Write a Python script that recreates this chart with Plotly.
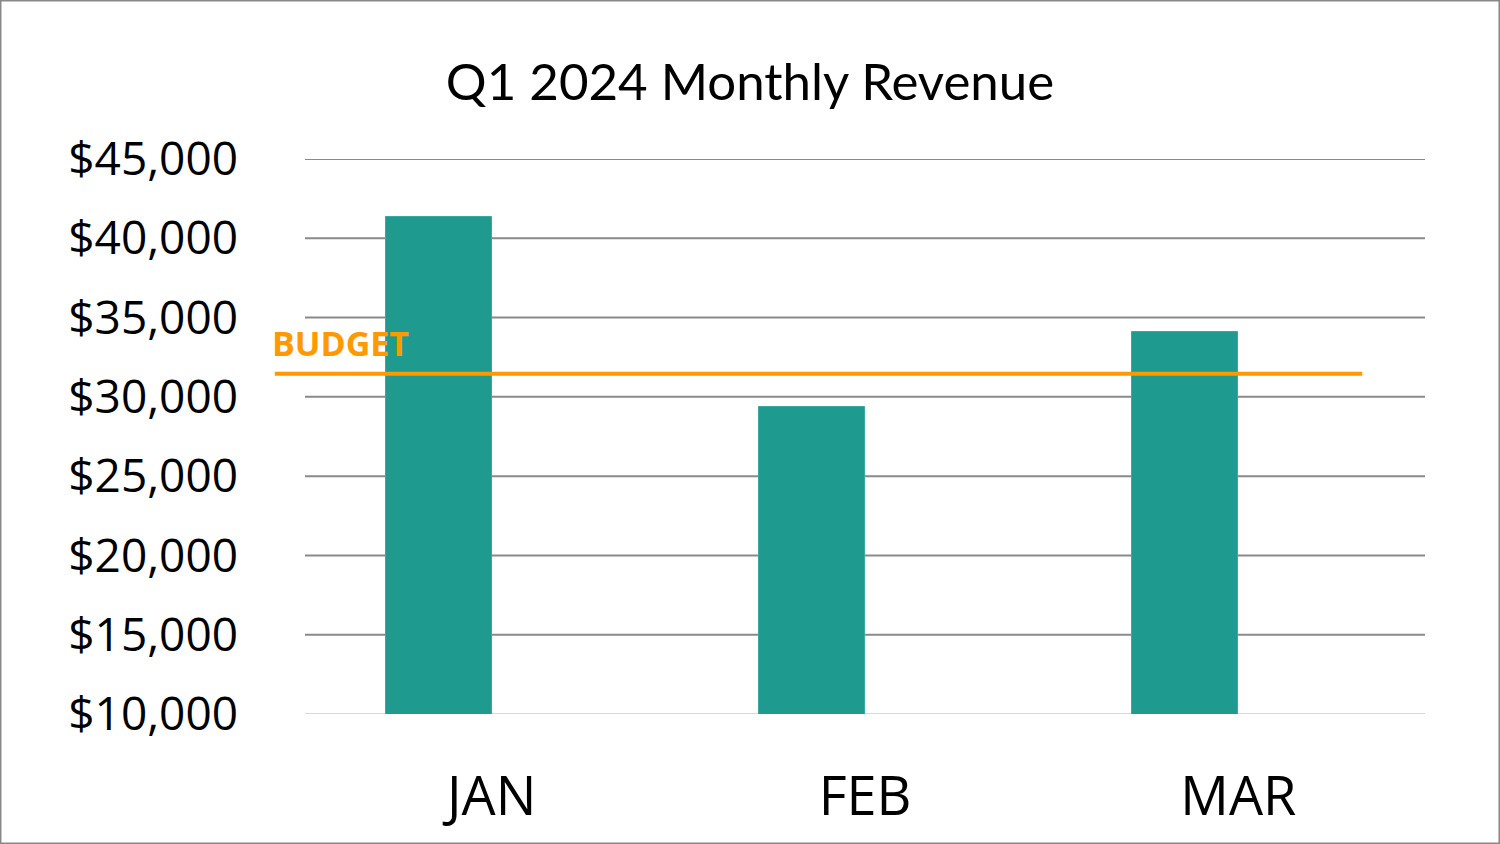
import plotly.graph_objects as go

# data
months = ["JAN", "FEB", "MAR"]
revenue = [41350, 29350, 34100]
budget = 31450
y_ticks = [10000, 15000, 20000, 25000, 30000, 35000, 40000, 45000]
y_tick_labels = ["$10,000", "$15,000", "$20,000", "$25,000", "$30,000", "$35,000", "$40,000", "$45,000"]

TEAL = "#1f9a8f"
ORANGE = "#ff9900"

fig = go.Figure()

# bars sit on the left half of each category slot (like a 2-series group with one empty)
fig.add_trace(go.Bar(
    x=months, y=revenue,
    width=0.284, offset=-0.284,
    marker=dict(color=TEAL, line=dict(color="#3aa99f", width=1)),
    showlegend=False,
))

# horizontal grid drawn as shapes so the top one at 45,000 is visible too
for v in y_ticks[1:]:
    fig.add_shape(type="line", xref="paper", yref="y", x0=0, x1=1,
                  y0=v, y1=v, line=dict(color="#8a8a8a", width=2), layer="below")
# light baseline at the bottom of the plot
fig.add_shape(type="line", xref="paper", yref="y", x0=0, x1=1,
              y0=y_ticks[0], y1=y_ticks[0], line=dict(color="#d9d9d9", width=2),
              layer="below")

# budget line
fig.add_shape(type="line", xref="paper", yref="y",
              x0=-0.027, x1=0.944, y0=budget, y1=budget,
              line=dict(color=ORANGE, width=4))
fig.add_annotation(text="<b>BUDGET</b>", xref="paper", yref="y",
                   x=-0.031, y=budget, xanchor="left", yanchor="bottom",
                   yshift=6, showarrow=False,
                   font=dict(family="Open Sans", size=34, color=ORANGE))

# outer frame
fig.add_shape(type="rect", xref="paper", yref="paper",
              x0=-0.2719, x1=1.0665, y0=-0.2333, y1=1.2856,
              line=dict(color="#888888", width=2), layer="below")

fig.update_layout(
    width=1500, height=844,
    margin=dict(l=305, r=75, t=159, b=130),
    paper_bgcolor="white", plot_bgcolor="white",
    title=dict(text="Q1 2024 Monthly Revenue", x=0.5, xanchor="center",
               y=0.903, yanchor="middle",
               font=dict(family="Lato", size=51, color="black")),
    bargap=0.0,
)
fig.update_xaxes(
    range=[-0.5, 2.5], showgrid=False, showline=False, ticks="",
    tickfont=dict(family="Open Sans", size=54, color="black"),
    ticklabelstandoff=46,
)
fig.update_yaxes(
    range=[10000, 45000], tickvals=y_ticks, ticktext=y_tick_labels,
    showgrid=False, zeroline=False, showline=False, ticks="",
    tickfont=dict(family="Open Sans", size=46, color="black"),
    ticklabelstandoff=66,
)

fig.write_html("out.html", config={"displayModeBar": False},
               post_script="document.body.style.margin='0';")
